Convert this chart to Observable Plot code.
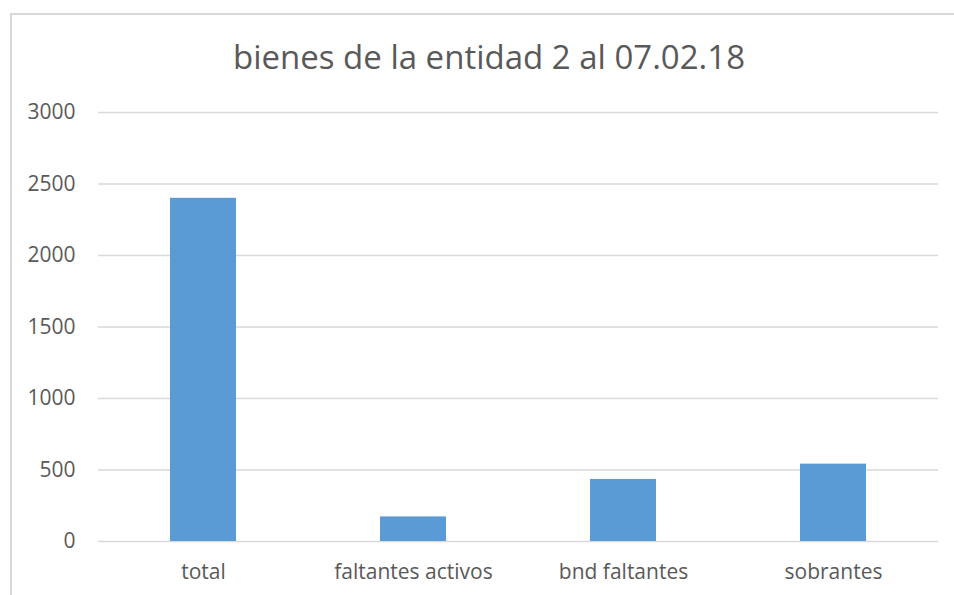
<!DOCTYPE html>
<html>
<head>
<meta charset="utf-8">
<script src="https://cdn.jsdelivr.net/npm/d3@7"></script>
<script src="https://cdn.jsdelivr.net/npm/@observablehq/plot@0.6"></script>
<style>
  html, body { margin: 0; padding: 0; background: #fff; }
  #wrap { position: relative; width: 954px; height: 595px; overflow: hidden; font-family: "Open Sans", sans-serif; }
  #frame { position: absolute; left: 10px; top: 13px; width: 2000px; height: 2000px; border-left: 2px solid #d9d9d9; border-top: 2px solid #d9d9d9; }
  #title { position: absolute; left: 12px; width: 954px; top: 35px; text-align: center; font-size: 33px; color: #595959; line-height: 44px; }
  #chart { position: absolute; left: 0; top: 0; }
</style>
</head>
<body>
<div id="wrap">
  <div id="frame"></div>
  <div id="chart"></div>
  <div id="title">bienes de la entidad 2 al 07.02.18</div>
</div>
<script>
const categories = ["total", "faltantes activos", "bnd faltantes", "sobrantes"];
const values = [2400, 172, 434, 541];
const yTicks = [0, 500, 1000, 1500, 2000, 2500, 3000];

const data = categories.map((c, i) => ({category: c, value: values[i]}));

const chart = Plot.plot({
  width: 954,
  height: 595,
  marginTop: 112,
  marginBottom: 54,
  marginLeft: 98,
  marginRight: 16,
  style: {fontFamily: "Open Sans, sans-serif", fontSize: "21px", color: "#595959", background: "transparent"},
  x: {domain: categories, paddingInner: 0.686, paddingOuter: 0.343, label: null},
  y: {domain: [0, 3000], label: null},
  marks: [
    Plot.gridY(yTicks, {stroke: "#d9d9d9", strokeOpacity: 1, strokeWidth: 1.5}),
    Plot.barY(data, {x: "category", y: "value", fill: "#5B9BD5"}),
    Plot.axisY(yTicks, {tickSize: 0, tickPadding: 23, fontSize: 21, fill: "#595959", label: null, tickFormat: d => String(d)}),
    Plot.axisX({tickSize: 0, tickPadding: 23, fontSize: 21, fill: "#595959", label: null})
  ]
});
document.getElementById("chart").appendChild(chart);
</script>
</body>
</html>
